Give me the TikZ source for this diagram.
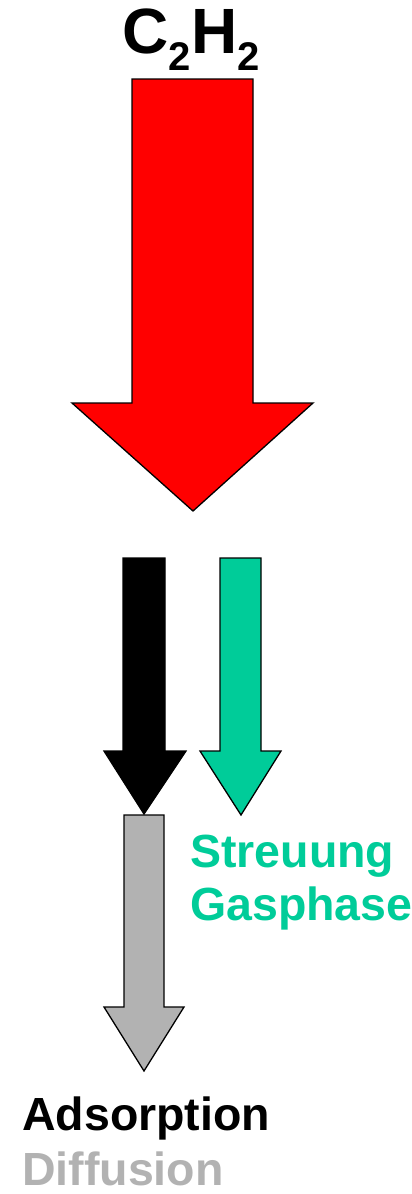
\documentclass[tikz,border=0pt]{standalone}
\usepackage{fontspec}
\setmainfont{Liberation Sans}
\usepackage{xcolor}
\usetikzlibrary{positioning}

\definecolor{flowred}{HTML}{FF0000}
\definecolor{flowgreen}{HTML}{00CC99}
\definecolor{flowgray}{HTML}{B2B2B2}

\begin{document}
\begin{tikzpicture}[
    x=1pt, y=-1pt,
    blockarrow/.style={draw=black, line width=1.3pt, line join=miter},
    label/.style={inner sep=0pt, anchor=base west, font=\fontsize{46.5}{46.5}\selectfont\bfseries}
]
\useasboundingbox (0,0) rectangle (412,1194);

% Arrows
\draw[blockarrow, fill=flowred] (132,79) -- (253,79) -- (253,403) -- (313,403) -- (193,511) -- (72,403) -- (132,403) -- cycle;
\draw[blockarrow, fill=black] (123,558) -- (165,558) -- (165,751) -- (186,751) -- (144,814) -- (104,751) -- (123,751) -- cycle;
\draw[blockarrow, fill=flowgreen] (220,558) -- (261,558) -- (261,751) -- (281,751) -- (241,815) -- (200,751) -- (220,751) -- cycle;
\draw[blockarrow, fill=flowgray] (124,815) -- (164,815) -- (164,1007) -- (184,1007) -- (144,1071) -- (104,1007) -- (124,1007) -- cycle;

% Labels
\node[inner sep=0pt, anchor=base, font=\fontsize{64}{64}\selectfont\bfseries] (gas) at (191,53)
    {C\raisebox{-17pt}{\fontsize{40}{40}\selectfont 2}H\raisebox{-17pt}{\fontsize{40}{40}\selectfont 2}};
\node[label, text=flowgreen] (streu) at (190,867) {Streuung};
\node[label, text=flowgreen] (phase) at (190,920) {Gasphase};
\node[label] (ads) at (22,1130) {Adsorption};
\node[label, text=flowgray] (diff) at (22,1185) {Diffusion};

\end{tikzpicture}
\end{document}
